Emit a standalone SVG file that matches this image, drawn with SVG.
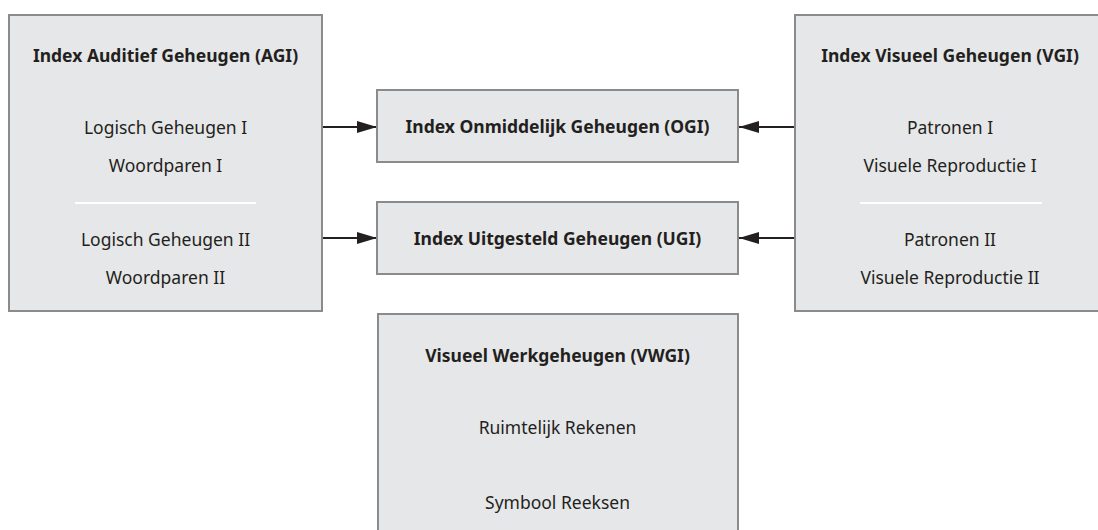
<svg xmlns="http://www.w3.org/2000/svg" width="1098" height="530" viewBox="0 0 1098 530">
<style>
.box{fill:#e6e7e8;stroke:#8a8b8d;stroke-width:2}
.sep{stroke:#ffffff;stroke-width:2}
.t{font-family:"Noto Sans","Open Sans",sans-serif;font-size:17.5px;fill:#231f20;text-anchor:middle}
.b{font-weight:bold}
.c{stroke:#231f20;stroke-width:2;fill:none}
</style>
<defs>
<marker id="a" markerWidth="20" markerHeight="12" refX="20" refY="6" orient="auto" markerUnits="userSpaceOnUse" viewBox="0 0 20 12">
<path d="M0,0 L20,6 L0,12 Z" fill="#231f20"/>
</marker>
</defs>
<rect width="1098" height="530" fill="#ffffff"/>
<g id="connectors">
<line class="c" x1="323" y1="127" x2="377" y2="127" marker-end="url(#a)"/>
<line class="c" x1="323" y1="238" x2="377" y2="238" marker-end="url(#a)"/>
<line class="c" x1="795" y1="127" x2="739" y2="127" marker-end="url(#a)"/>
<line class="c" x1="795" y1="238" x2="739" y2="238" marker-end="url(#a)"/>
</g>
<g id="agi">
<rect class="box" x="9" y="15" width="313" height="296"/>
<text class="t b" x="165.5" y="62">Index Auditief Geheugen (AGI)</text>
<text class="t" x="165.5" y="134">Logisch Geheugen I</text>
<text class="t" x="165.5" y="172">Woordparen I</text>
<line class="sep" x1="75" y1="203" x2="256" y2="203"/>
<text class="t" x="165.5" y="246">Logisch Geheugen II</text>
<text class="t" x="165.5" y="284">Woordparen II</text>
</g>
<g id="vgi">
<rect class="box" x="795" y="15" width="313" height="296"/>
<text class="t b" x="950" y="62">Index Visueel Geheugen (VGI)</text>
<text class="t" x="950" y="134">Patronen I</text>
<text class="t" x="950" y="172">Visuele Reproductie I</text>
<line class="sep" x1="860" y1="203" x2="1042" y2="203"/>
<text class="t" x="950" y="246">Patronen II</text>
<text class="t" x="950" y="284">Visuele Reproductie II</text>
</g>
<g id="ogi">
<rect class="box" x="377" y="90" width="361" height="72"/>
<text class="t b" x="557.5" y="133">Index Onmiddelijk Geheugen (OGI)</text>
</g>
<g id="ugi">
<rect class="box" x="377" y="202" width="361" height="72"/>
<text class="t b" x="557.5" y="245">Index Uitgesteld Geheugen (UGI)</text>
</g>
<g id="vwgi">
<rect class="box" x="378" y="314" width="360" height="230"/>
<text class="t b" x="557.5" y="362">Visueel Werkgeheugen (VWGI)</text>
<text class="t" x="557.5" y="434">Ruimtelijk Rekenen</text>
<text class="t" x="557.5" y="509">Symbool Reeksen</text>
</g>
</svg>
